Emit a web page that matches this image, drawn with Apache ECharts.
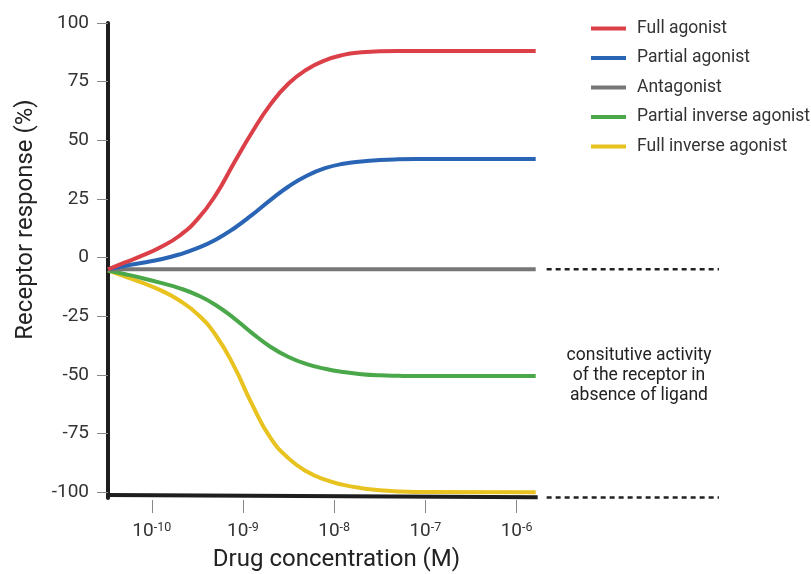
<!DOCTYPE html>
<html>
<head>
<meta charset="utf-8">
<script src="https://cdn.jsdelivr.net/npm/echarts@6/dist/echarts.min.js"></script>
<style>
  html, body { margin: 0; padding: 0; background: #fff; }
  #chart { width: 811px; height: 574px; }
</style>
</head>
<body>
<div id="chart"></div>
<script>
// x = log10 of drug concentration (M), y = receptor response (%)
const seriesNames = ['Full agonist', 'Partial agonist', 'Antagonist', 'Partial inverse agonist', 'Full inverse agonist'];
const seriesColors = ['#db4049', '#2a64b4', '#777777', '#4aa84a', '#e8c21f'];

const logConc = [-10.48, -10.3, -10.1, -9.9, -9.7, -9.5, -9.3, -9.1, -8.9, -8.7, -8.5, -8.3, -8.1, -7.9, -7.7, -7.5, -7.3, -7.1, -5.79];

const fullAgonist = [-5, -2.2, 0.9, 4.5, 9.2, 16.3, 26.6, 40.2, 53.4, 65.2, 74.2, 80.2, 84.1, 86.4, 87.5, 88, 88.1, 88.1, 88.1];
const partialAgonist = [-5, -3.6, -2.2, -0.7, 1.3, 4, 7.6, 12.4, 18.2, 24.5, 30.3, 34.9, 38.1, 40, 41, 41.6, 41.9, 42, 42];
const antagonist = [-5, -5, -5, -5, -5, -5, -5, -5, -5, -5, -5, -5, -5, -5, -5, -5, -5, -5, -5];
const partialInverse = [-5.5, -7, -8.8, -10.8, -13, -16, -20.2, -25.8, -32.2, -38, -42.4, -45.4, -47.4, -48.8, -49.7, -50.2, -50.4, -50.5, -50.5];
const fullInverse = [-5.5, -8, -10.8, -14, -18.2, -24.1, -33, -46.2, -62.6, -76.8, -85.6, -91.2, -94.7, -96.9, -98.3, -99.2, -99.7, -99.9, -100];

const xAxisLine = [[-10.48, -101.2], [-5.79, -102.2]];
const baselineDash = [[-5.67, -5], [-3.78, -5]];
const bottomDash = [[-5.67, -102.3], [-3.78, -102.3]];

const xTicks = [-10, -9, -8, -7, -6];
const yTicks = [-100, -75, -50, -25, 0, 25, 50, 75, 100];
const note = ['consitutive activity', 'of the receptor in', 'absence of ligand'];

const chart = echarts.init(document.getElementById('chart'));
const FONT = 'Roboto';

const curves = [fullAgonist, partialAgonist, antagonist, partialInverse, fullInverse].map((vals, i) => ({
  name: seriesNames[i],
  type: 'line',
  data: logConc.map((x, j) => [x, vals[j]]),
  smooth: 0.5,
  showSymbol: false,
  clip: false,
  lineStyle: { width: 4, color: seriesColors[i] },
  itemStyle: { color: seriesColors[i] },
  z: 5 - i
}));

function guide(data, dashed) {
  return {
    type: 'line',
    data: data,
    showSymbol: false,
    silent: true,
    clip: false,
    lineStyle: dashed
      ? { width: 2.5, color: '#222', type: [5, 4] }
      : { width: 4, color: '#1e1e1e', cap: 'square' },
    z: 1
  };
}

chart.setOption({
  animation: false,
  grid: { left: 108, right: 92, top: 23, bottom: 76, containLabel: false, outerBoundsMode: 'none' },
  legend: {
    data: seriesNames,
    orient: 'vertical',
    left: 591,
    top: 19,
    padding: 0,
    itemGap: 10.5,
    itemWidth: 35,
    itemHeight: 4,
    icon: 'rect',
    textStyle: { fontFamily: FONT, fontSize: 17.5, color: '#333', padding: [0, 0, 0, 6], lineHeight: 19 }
  },
  xAxis: {
    type: 'value',
    min: -10.48,
    max: -3.78,
    offset: 2,
    axisLine: { show: false, onZero: false },
    splitLine: { show: false },
    axisTick: { show: true, customValues: xTicks, length: 13, lineStyle: { color: '#888', width: 1 } },
    axisLabel: {
      customValues: xTicks,
      margin: 21,
      formatter: v => '{b|10}{s|' + v + '}',
      rich: {
        b: { fontFamily: FONT, fontSize: 19, color: '#333', lineHeight: 20 },
        s: { fontFamily: FONT, fontSize: 12.5, color: '#333', lineHeight: 12, verticalAlign: 'top' }
      }
    },
    name: 'Drug concentration (M)',
    nameLocation: 'middle',
    nameGap: 48,
    nameTextStyle: { fontFamily: FONT, fontSize: 24, color: '#222', padding: [0, 154, 0, 0] }
  },
  yAxis: {
    type: 'value',
    min: -102.5,
    max: 100,
    axisLine: { show: true, lineStyle: { color: '#1e1e1e', width: 4 } },
    splitLine: { show: false },
    axisTick: { show: true, customValues: yTicks, length: 11, lineStyle: { color: '#888', width: 1 } },
    axisLabel: { customValues: yTicks, margin: 19, fontFamily: FONT, fontSize: 19, color: '#333' },
    name: 'Receptor response (%)',
    nameLocation: 'middle',
    nameGap: 70,
    nameTextStyle: { fontFamily: FONT, fontSize: 24, color: '#222', padding: [0, 0, 0, 82] }
  },
  graphic: [{
    type: 'text',
    x: 639,
    y: 376,
    silent: true,
    style: {
      text: note.join('\n'),
      fontFamily: FONT,
      fontSize: 17.5,
      lineHeight: 20,
      fill: '#222',
      align: 'center',
      verticalAlign: 'middle'
    }
  }],
  series: curves.concat([guide(xAxisLine, false), guide(baselineDash, true), guide(bottomDash, true)])
});
</script>
</body>
</html>
